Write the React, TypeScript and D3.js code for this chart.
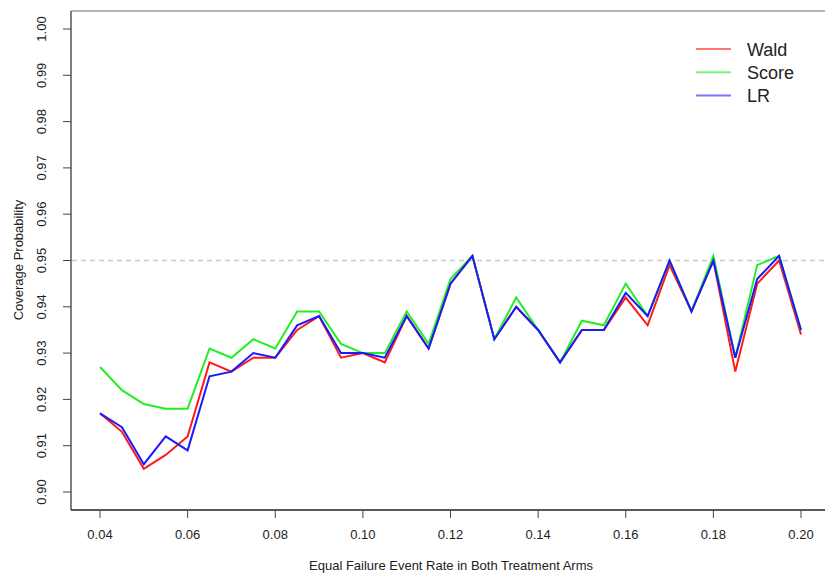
import React, { useEffect, useRef } from 'react';
import * as d3 from 'd3';

// failure event rate, 0.04 to 0.20 in steps of 0.005
const rates = [
    0.040, 0.045, 0.050, 0.055, 0.060, 0.065, 0.070, 0.075, 0.080, 0.085, 0.090,
    0.095, 0.100, 0.105, 0.110, 0.115, 0.120, 0.125, 0.130, 0.135, 0.140, 0.145,
    0.150, 0.155, 0.160, 0.165, 0.170, 0.175, 0.180, 0.185, 0.190, 0.195, 0.200
];

const wald = [
    0.917, 0.913, 0.905, 0.908, 0.912, 0.928, 0.926, 0.929, 0.929, 0.935, 0.938,
    0.929, 0.930, 0.928, 0.938, 0.931, 0.945, 0.951, 0.933, 0.940, 0.935, 0.928,
    0.935, 0.935, 0.942, 0.936, 0.949, 0.939, 0.950, 0.926, 0.945, 0.950, 0.934
];

const score = [
    0.927, 0.922, 0.919, 0.918, 0.918, 0.931, 0.929, 0.933, 0.931, 0.939, 0.939,
    0.932, 0.930, 0.930, 0.939, 0.932, 0.946, 0.951, 0.933, 0.942, 0.935, 0.928,
    0.937, 0.936, 0.945, 0.938, 0.950, 0.939, 0.951, 0.929, 0.949, 0.951, 0.935
];

const lr = [
    0.917, 0.914, 0.906, 0.912, 0.909, 0.925, 0.926, 0.930, 0.929, 0.936, 0.938,
    0.930, 0.930, 0.929, 0.938, 0.931, 0.945, 0.951, 0.933, 0.940, 0.935, 0.928,
    0.935, 0.935, 0.943, 0.938, 0.950, 0.939, 0.950, 0.929, 0.946, 0.951, 0.935
];

const seriesNames = ["Wald", "Score", "LR"];
const seriesColors = ["#ff1a1a", "#22ee22", "#1a1aff"];
const xTicks = [0.04, 0.06, 0.08, 0.10, 0.12, 0.14, 0.16, 0.18, 0.20];
const yTicks = [0.90, 0.91, 0.92, 0.93, 0.94, 0.95, 0.96, 0.97, 0.98, 0.99, 1.00];
const reference = 0.95;

const App = () => {
    const ref = useRef<SVGSVGElement>(null);

    useEffect(() => {
        document.body.style.margin = "0";
        const width = 825;
        const font = "'Liberation Sans', Arial, sans-serif";
        const axisSize = 13;

        const svg = d3.select(ref.current);
        svg.selectAll("*").remove();

        const x = d3.scaleLinear().domain([0.04, 0.20]).range([100, 801]);
        const y = d3.scaleLinear().domain([0.90, 1.00]).range([492, 29]);
        const left = 71, top = 11, bottom = 510;

        // frame (cut off on the right)
        svg.append("line").attr("x1", left).attr("x2", width + 5).attr("y1", top).attr("y2", top)
            .attr("stroke", "#9a9a9a").attr("stroke-width", 1.5);
        svg.append("line").attr("x1", left).attr("x2", left).attr("y1", top).attr("y2", bottom)
            .attr("stroke", "#555").attr("stroke-width", 1.5);
        svg.append("line").attr("x1", left).attr("x2", width + 5).attr("y1", bottom).attr("y2", bottom)
            .attr("stroke", "#222").attr("stroke-width", 1.5);

        // x axis
        const xAxis = svg.append("g").attr("font-family", font).attr("font-size", axisSize);
        xTicks.forEach(t => {
            xAxis.append("line").attr("x1", x(t)).attr("x2", x(t)).attr("y1", bottom).attr("y2", bottom + 8)
                .attr("stroke", "#444");
            xAxis.append("text").attr("x", x(t)).attr("y", 539).attr("text-anchor", "middle")
                .attr("fill", "#222").text(t.toFixed(2));
        });

        // y axis
        const yAxis = svg.append("g").attr("font-family", font).attr("font-size", axisSize);
        yTicks.forEach(t => {
            yAxis.append("line").attr("x1", left - 8).attr("x2", left).attr("y1", y(t)).attr("y2", y(t))
                .attr("stroke", "#444");
            yAxis.append("text")
                .attr("transform", `translate(45.5,${y(t)}) rotate(-90)`)
                .attr("text-anchor", "middle").attr("fill", "#222").text(t.toFixed(2));
        });

        svg.append("text").attr("font-family", font).attr("font-size", axisSize).attr("fill", "#222")
            .attr("transform", "translate(22.5,260) rotate(-90)").attr("text-anchor", "middle")
            .text("Coverage Probability");
        svg.append("text").attr("font-family", font).attr("font-size", axisSize).attr("fill", "#222")
            .attr("x", 451).attr("y", 570).attr("text-anchor", "middle")
            .text("Equal Failure Event Rate in Both Treatment Arms");

        // 0.95 reference
        svg.append("line").attr("x1", left + 1).attr("x2", width + 5).attr("y1", y(reference)).attr("y2", y(reference))
            .attr("stroke", "#c8c8c8").attr("stroke-width", 1.3).attr("stroke-dasharray", "5,4");

        const line = d3.line<number>().x((d, i) => x(rates[i])).y(d => y(d));
        [wald, score, lr].forEach((s, k) => {
            svg.append("path").datum(s).attr("d", line).attr("fill", "none")
                .attr("stroke", seriesColors[k]).attr("stroke-width", 2).attr("stroke-linejoin", "miter");
        });

        // legend
        const legend = svg.append("g").attr("font-family", font).attr("font-size", 18);
        seriesNames.forEach((name, k) => {
            const ly = 49 + k * 23.2;
            legend.append("line").attr("x1", 696).attr("x2", 731).attr("y1", ly).attr("y2", ly)
                .attr("stroke", seriesColors[k]).attr("stroke-width", 2).attr("stroke-opacity", 0.6);
            legend.append("text").attr("x", 747).attr("y", ly + 6.5).attr("fill", "#222").text(name);
        });
    }, []);

    return <svg ref={ref} width={825} height={573} style={{ display: "block", background: "#fff" }}></svg>;
};

export default App;
